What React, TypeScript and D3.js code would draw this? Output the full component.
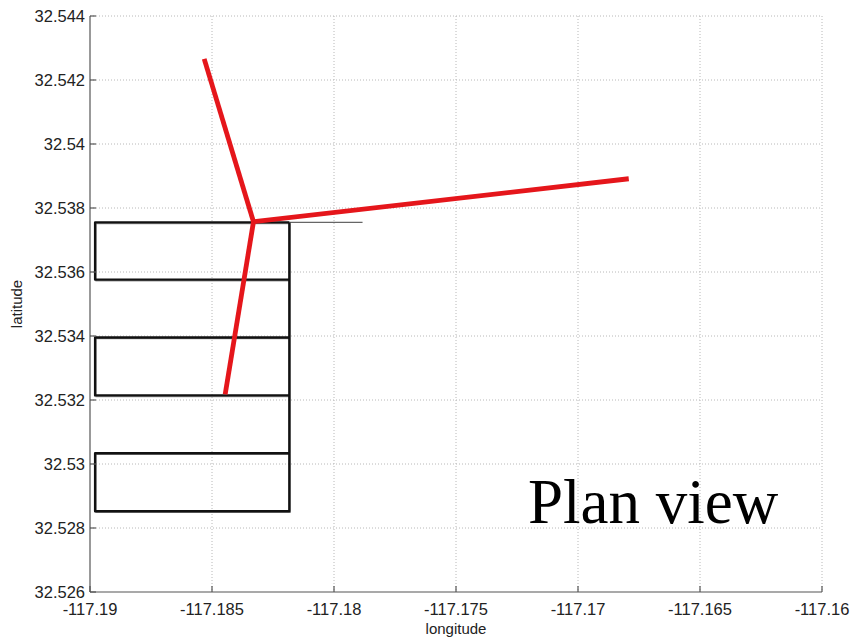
import React, { useEffect, useRef } from 'react';
import * as d3 from 'd3';

// axis ticks
const lonTicks = [-117.19, -117.185, -117.18, -117.175, -117.17, -117.165, -117.16];
const latTicks = [32.526, 32.528, 32.53, 32.532, 32.534, 32.536, 32.538, 32.54, 32.542, 32.544];

// survey track (lawnmower pattern)
const trackLon = [-117.17883, -117.18183, -117.18979, -117.18979, -117.18183, -117.18183, -117.18979,
  -117.18979, -117.18183, -117.18183, -117.18979, -117.18979, -117.18183, -117.18183];
const trackLat = [32.53755, 32.53755, 32.53755, 32.535763, 32.535763, 32.533953, 32.533953,
  32.532144, 32.532144, 32.530334, 32.530334, 32.528524, 32.528524, 32.53755];

// red array lines from the hub
const hubLon = -117.1833;
const hubLat = 32.53757;
const spokeLon = [-117.18532, -117.16792, -117.18446];
const spokeLat = [32.54266, 32.538914, 32.532175];

export default function App() {
  const ref = useRef<SVGSVGElement>(null);

  useEffect(() => {
    const svg = d3.select(ref.current);
    svg.selectAll('*').remove();

    const left = 90, right = 822, top = 16, bottom = 592;
    const x = d3.scaleLinear().domain([-117.19, -117.16]).range([left, right]);
    const y = d3.scaleLinear().domain([32.526, 32.544]).range([bottom, top]);
    const font = 'Liberation Sans, Arial, sans-serif';

    svg.append('rect').attr('width', 851).attr('height', 640).attr('fill', '#fff');

    // grid
    const grid = svg.append('g').attr('stroke', '#b8b8b8').attr('stroke-dasharray', '1,2').attr('stroke-width', 1);
    lonTicks.slice(1).forEach(v => {
      grid.append('line').attr('x1', x(v)).attr('x2', x(v)).attr('y1', top).attr('y2', bottom);
    });
    latTicks.slice(1).forEach(v => {
      grid.append('line').attr('x1', left).attr('x2', right).attr('y1', y(v)).attr('y2', y(v));
    });

    // track
    const pts = trackLon.map((lon, i) => [x(lon), y(trackLat[i])] as [number, number]);
    const line = d3.line();
    svg.append('path').attr('d', line(pts.slice(0, 2))).attr('fill', 'none')
      .attr('stroke', '#666').attr('stroke-width', 1.3);
    svg.append('path').attr('d', line(pts.slice(1))).attr('fill', 'none')
      .attr('stroke', '#999').attr('stroke-width', 1.2).attr('transform', 'translate(0.9,1.2)');
    svg.append('path').attr('d', line(pts.slice(1))).attr('fill', 'none')
      .attr('stroke', '#111').attr('stroke-width', 2.4).attr('stroke-linejoin', 'round');

    // red lines
    spokeLon.forEach((lon, i) => {
      svg.append('line')
        .attr('x1', x(hubLon)).attr('y1', y(hubLat))
        .attr('x2', x(lon)).attr('y2', y(spokeLat[i]))
        .attr('stroke', '#e5161b').attr('stroke-width', 4.8).attr('stroke-linecap', 'butt');
    });

    // axes
    const ax = svg.append('g').attr('stroke', '#555').attr('stroke-width', 1.2);
    ax.append('line').attr('x1', left).attr('x2', left).attr('y1', top).attr('y2', bottom);
    ax.append('line').attr('x1', left).attr('x2', right).attr('y1', bottom).attr('y2', bottom);
    lonTicks.forEach(v => {
      ax.append('line').attr('x1', x(v)).attr('x2', x(v)).attr('y1', bottom).attr('y2', bottom - 6);
    });
    latTicks.forEach(v => {
      ax.append('line').attr('x1', left).attr('x2', left + 6).attr('y1', y(v)).attr('y2', y(v));
    });

    svg.selectAll('text.xt').data(lonTicks).enter().append('text')
      .attr('x', d => x(d)).attr('y', bottom + 23)
      .attr('text-anchor', 'middle').attr('font-family', font).attr('font-size', 16.5).attr('fill', '#222')
      .text(d => String(d));
    svg.selectAll('text.yt').data(latTicks).enter().append('text')
      .attr('x', left - 5).attr('y', d => y(d)).attr('dy', '0.35em')
      .attr('text-anchor', 'end').attr('font-family', font).attr('font-size', 16.5).attr('fill', '#222')
      .text(d => String(d));

    svg.append('text').attr('x', (left + right) / 2).attr('y', 634).attr('text-anchor', 'middle')
      .attr('font-family', font).attr('font-size', 15).attr('fill', '#222').text('longitude');
    svg.append('text').attr('transform', 'translate(22,' + (top + bottom) / 2 + ') rotate(-90)')
      .attr('text-anchor', 'middle').attr('font-family', font).attr('font-size', 15).attr('fill', '#222')
      .text('latitude');

    svg.append('text').attr('x', 528).attr('y', 523)
      .attr('font-family', 'Liberation Serif, Times New Roman, serif').attr('font-size', 63).attr('fill', '#000')
      .text('Plan view');
  }, []);

  return <svg ref={ref} width={851} height={640} style={{ position: 'absolute', left: 0, top: 0 }} />;
}
